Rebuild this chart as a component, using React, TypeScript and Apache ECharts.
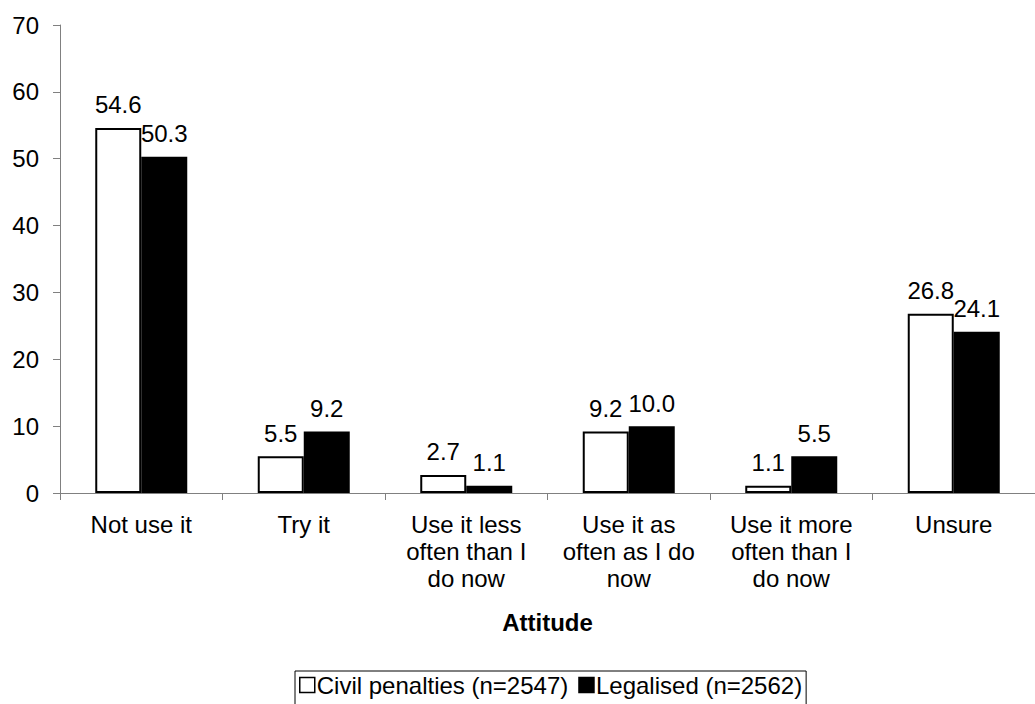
import React, { useEffect, useRef } from "react";
import * as echarts from "echarts";

const categories = [
  "Not use it",
  "Try it",
  "Use it less\noften than I\ndo now",
  "Use it as\noften as I do\nnow",
  "Use it more\noften than I\ndo now",
  "Unsure",
];
const civil = [54.6, 5.5, 2.7, 9.2, 1.1, 26.8];
const legalised = [50.3, 9.2, 1.1, 10.0, 5.5, 24.1];
const seriesNames = ["Civil penalties (n=2547)", "Legalised (n=2562)"];
const yTicks = { min: 0, max: 70, interval: 10 };

const FONT = "Liberation Sans, Arial, sans-serif";

export default function App() {
  const ref = useRef<HTMLDivElement>(null);
  useEffect(() => {
    if (!ref.current) return;
    const chart = echarts.init(ref.current, null, { renderer: "svg" });
    const label = {
      show: true,
      position: "top",
      distance: 11,
      color: "#000",
      fontSize: 24,
      fontFamily: FONT,
      formatter: (p: any) => Number(p.value).toFixed(1),
    };
    chart.setOption({
      animation: false,
      backgroundColor: "#fff",
      textStyle: { fontFamily: FONT },
      grid: { left: 60, top: 25, width: 982, height: 468, containLabel: false },
      legend: {
        left: 295,
        top: 671,
        orient: "horizontal",
        borderColor: "#000",
        borderWidth: 1,
        padding: [2, 4, 10, 4],
        itemWidth: 15,
        itemHeight: 15,
        itemGap: 10,
        icon: "rect",
        itemStyle: { borderWidth: 1.5 },
        textStyle: { fontSize: 24, color: "#000", fontFamily: FONT, padding: [0, 0, 0, -3] },
        data: seriesNames,
      },
      xAxis: {
        type: "category",
        data: categories,
        name: "Attitude",
        nameLocation: "middle",
        nameGap: 117,
        nameTextStyle: { fontSize: 24, fontWeight: "bold", color: "#000", fontFamily: FONT },
        axisLine: { lineStyle: { color: "#808080", width: 1 } },
        axisTick: { show: true, length: 7, lineStyle: { color: "#808080" } },
        axisLabel: {
          color: "#000",
          fontSize: 24,
          fontFamily: FONT,
          lineHeight: 27,
          margin: 18,
          interval: 0,
        },
      },
      yAxis: {
        type: "value",
        min: yTicks.min,
        max: yTicks.max,
        interval: yTicks.interval,
        axisLine: { show: true, lineStyle: { color: "#808080", width: 1 } },
        axisTick: { show: true, length: 7, lineStyle: { color: "#808080" } },
        splitLine: { show: false },
        axisLabel: { color: "#000", fontSize: 24, fontFamily: FONT, margin: 21 },
      },
      series: [
        {
          name: seriesNames[0],
          type: "bar",
          data: civil,
          barWidth: 46,
          barGap: "0%",
          itemStyle: { color: "#fff", borderColor: "#000", borderWidth: 2 },
          label,
        },
        {
          name: seriesNames[1],
          type: "bar",
          data: legalised,
          barWidth: 46,
          barGap: "0%",
          itemStyle: { color: "#000", borderColor: "#000", borderWidth: 2 },
          label,
        },
      ],
    });
    return () => chart.dispose();
  }, []);
  return (
    <div
      ref={ref}
      style={{ position: "fixed", left: 0, top: 0, width: 1035, height: 704, background: "#fff" }}
    />
  );
}
